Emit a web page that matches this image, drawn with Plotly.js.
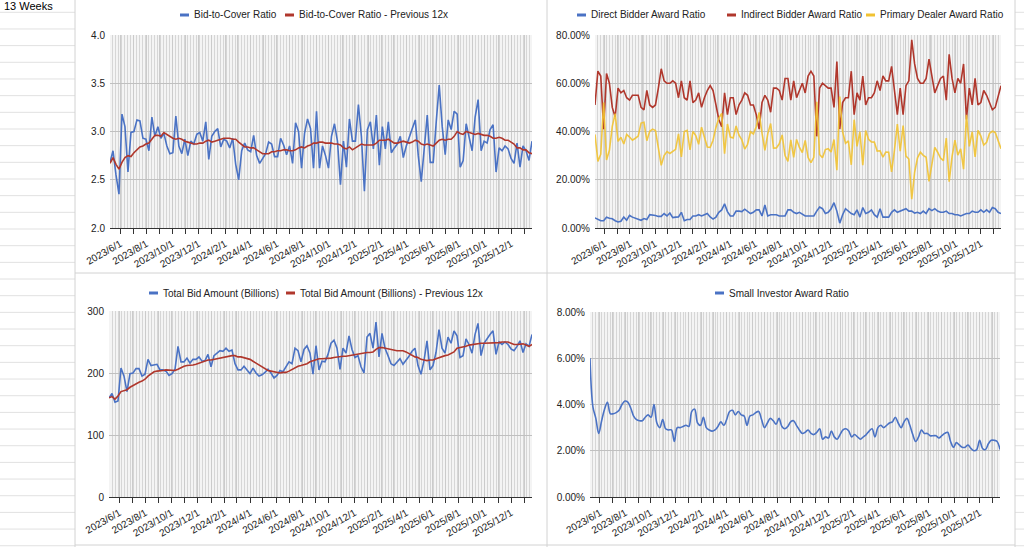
<!DOCTYPE html>
<html><head><meta charset="utf-8">
<script src="https://cdn.plot.ly/plotly-3.0.1.min.js"></script>
<style>html,body{margin:0;padding:0;background:#fff;overflow:hidden}#chart{width:1024px;height:547px}</style>
</head><body><div id="chart"></div>
<script>
const dates = [
'2023-05-08','2023-05-15','2023-05-22','2023-05-29','2023-06-05','2023-06-12','2023-06-19','2023-06-26','2023-07-03','2023-07-10',
'2023-07-17','2023-07-24','2023-07-31','2023-08-07','2023-08-14','2023-08-21','2023-08-28','2023-09-04','2023-09-11','2023-09-18',
'2023-09-25','2023-10-02','2023-10-09','2023-10-16','2023-10-23','2023-10-30','2023-11-06','2023-11-13','2023-11-20','2023-11-27',
'2023-12-04','2023-12-11','2023-12-18','2023-12-25','2024-01-01','2024-01-08','2024-01-15','2024-01-22','2024-01-29','2024-02-05',
'2024-02-12','2024-02-19','2024-02-26','2024-03-04','2024-03-11','2024-03-18','2024-03-25','2024-04-01','2024-04-08','2024-04-15',
'2024-04-22','2024-04-29','2024-05-06','2024-05-13','2024-05-20','2024-05-27','2024-06-03','2024-06-10','2024-06-17','2024-06-24',
'2024-07-01','2024-07-08','2024-07-15','2024-07-22','2024-07-29','2024-08-05','2024-08-12','2024-08-19','2024-08-26','2024-09-02',
'2024-09-09','2024-09-16','2024-09-23','2024-09-30','2024-10-07','2024-10-14','2024-10-21','2024-10-28','2024-11-04','2024-11-11',
'2024-11-18','2024-11-25','2024-12-02','2024-12-09','2024-12-16','2024-12-23','2024-12-30','2025-01-06','2025-01-13','2025-01-20',
'2025-01-27','2025-02-03','2025-02-10','2025-02-17','2025-02-24','2025-03-03','2025-03-10','2025-03-17','2025-03-24','2025-03-31',
'2025-04-07','2025-04-14','2025-04-21','2025-04-28','2025-05-05','2025-05-12','2025-05-19','2025-05-26','2025-06-02','2025-06-09',
'2025-06-16','2025-06-23','2025-06-30','2025-07-07','2025-07-14','2025-07-21','2025-07-28','2025-08-04','2025-08-11','2025-08-18',
'2025-08-25','2025-09-01','2025-09-08','2025-09-15','2025-09-22','2025-09-29','2025-10-06','2025-10-13','2025-10-20','2025-10-27',
'2025-11-03','2025-11-10','2025-11-17','2025-11-24','2025-12-01','2025-12-08','2025-12-15','2025-12-22','2025-12-29','2026-01-05',
'2026-01-12','2026-01-19'];

const tickDates = ['2023-06-01','2023-07-01','2023-08-01','2023-09-01','2023-10-01','2023-11-01','2023-12-01','2024-01-01',
'2024-02-01','2024-03-01','2024-04-01','2024-05-01','2024-06-01','2024-07-01','2024-08-01','2024-09-01','2024-10-01','2024-11-01',
'2024-12-01','2025-01-01','2025-02-01','2025-03-01','2025-04-01','2025-05-01','2025-06-01','2025-07-01','2025-08-01','2025-09-01',
'2025-10-01','2025-11-01','2025-12-01','2026-01-01'];
const tickLabels = ['2023/6/1','','2023/8/1','','2023/10/1','','2023/12/1','','2024/2/1','','2024/4/1','','2024/6/1','',
'2024/8/1','','2024/10/1','','2024/12/1','','2025/2/1','','2025/4/1','','2025/6/1','','2025/8/1','','2025/10/1','','2025/12/1',''];

const bidToCover = [2.68,2.80,2.55,2.35,3.18,3.05,2.58,2.99,3.00,3.12,
3.11,2.93,2.92,2.80,3.15,2.95,3.05,2.93,2.98,2.85,
2.77,2.78,3.16,2.85,2.77,2.92,2.75,2.90,2.87,2.97,
2.99,2.90,3.10,2.71,2.95,3.00,3.03,2.84,2.92,2.90,
2.83,2.93,2.66,2.50,2.80,2.88,2.81,2.79,2.96,2.75,
2.67,2.72,2.77,2.89,2.87,2.74,2.74,2.93,2.86,2.76,
2.85,2.67,3.09,3.00,2.62,2.98,3.13,3.03,2.62,3.21,
2.62,2.85,2.75,2.62,2.95,3.08,2.90,2.45,2.90,2.63,
3.13,2.90,2.90,3.28,2.95,2.38,3.02,3.10,2.82,3.17,
2.65,3.05,2.82,3.10,2.78,2.83,2.87,2.95,2.73,2.85,
2.95,3.03,3.12,2.75,2.48,2.80,3.17,2.68,2.68,3.10,
3.48,3.05,2.76,3.12,3.02,3.21,3.18,2.63,2.70,3.08,
2.95,2.80,3.15,3.33,2.80,2.90,2.88,3.02,3.07,2.58,
2.83,2.80,2.85,2.82,2.72,2.67,2.88,2.63,2.85,2.80,
2.70,2.90];

const bidToCoverPrev12 = [2.67,2.73,2.66,2.61,2.68,2.73,2.75,2.74,2.78,2.81,
2.84,2.85,2.87,2.88,2.92,2.96,2.96,2.95,2.99,2.97,
2.95,2.93,2.92,2.93,2.92,2.90,2.89,2.88,2.87,2.87,
2.88,2.88,2.90,2.91,2.89,2.90,2.91,2.92,2.93,2.93,
2.93,2.92,2.92,2.89,2.86,2.84,2.84,2.83,2.83,2.81,
2.79,2.77,2.77,2.77,2.79,2.79,2.80,2.80,2.81,2.81,
2.80,2.80,2.81,2.83,2.84,2.83,2.85,2.86,2.88,2.88,
2.89,2.89,2.88,2.88,2.88,2.87,2.87,2.86,2.83,2.82,
2.84,2.81,2.83,2.85,2.87,2.86,2.86,2.86,2.86,2.88,
2.91,2.91,2.91,2.92,2.90,2.88,2.88,2.89,2.90,2.89,
2.88,2.89,2.91,2.90,2.87,2.86,2.87,2.86,2.85,2.88,
2.91,2.92,2.91,2.92,2.92,2.95,3.00,2.98,2.97,3.00,
2.99,2.98,2.97,2.98,2.97,2.96,2.96,2.95,2.93,2.93,
2.94,2.93,2.91,2.91,2.89,2.87,2.83,2.83,2.81,2.81,
2.78,2.77];

const directAward = [4.2,3.5,3.0,3.0,4.5,4.0,3.8,3.0,2.5,2.8,
4.5,3.2,5.2,4.5,4.0,3.4,3.2,3.9,3.5,5.5,
5.5,5.2,4.8,4.8,6.0,5.0,6.2,4.3,4.5,4.6,
6.5,3.0,3.5,3.5,5.0,5.0,5.5,5.0,5.5,6.0,
4.6,3.7,4.5,6.5,7.5,10.0,6.8,5.0,5.0,7.0,
7.0,6.8,7.8,6.8,6.0,6.5,7.5,7.5,5.0,9.5,
5.0,5.5,5.5,5.5,5.0,5.0,5.0,7.5,7.5,6.5,
6.0,6.5,5.8,5.0,5.0,5.0,5.0,7.0,8.7,8.0,
6.0,6.5,8.0,10.5,7.0,2.0,5.5,8.0,7.0,6.0,
5.5,7.5,4.5,8.5,6.0,6.5,7.5,5.5,4.5,8.0,
4.5,4.5,4.5,6.5,7.5,6.5,7.0,7.5,8.0,7.0,
7.0,6.2,6.5,6.0,7.0,6.0,8.0,7.2,8.0,7.0,
6.5,6.5,7.0,6.0,6.0,5.5,5.5,5.0,5.5,6.0,
6.0,7.0,6.5,6.5,7.5,6.5,7.5,6.5,8.5,8.0,
6.5,6.0];

const indirectAward = [51,65,63,41,64,60,50,46,58,56,
57,54,53,55,55,55,50,49,57,51,
50,51,58,66,61,60,60,61,60,54,
61,54,53,61,52,53,56,50,54,57,
59,57,51,45,42,56,47,54,54,47,
51,53,56,55,51,51,47,41,52,55,
53,48,58,58,57,53,62,62,53,61,
54,57,60,56,63,65,63,38,58,60,
59,58,58,50,69,41,52,54,54,65,
47,56,53,63,51,54,54,56,61,57,
63,61,61,67,57,47,58,47,59,61,
78,68,62,60,60,62,70,63,56,59,
62,63,53,72,62,56,62,60,68,45,
58,51,62,51,52,57,55,52,49,50,
55,59];

const primaryDealerAward = [38.8,27.6,30.6,52.0,28.2,32.2,42.1,47.4,35.9,37.6,
34.8,38.8,37.7,36.4,37.2,38.1,43.5,43.8,36.2,40.1,
41.0,40.4,33.2,26.0,30.0,31.7,30.9,31.8,32.6,39.0,
29.5,40.0,40.5,32.4,40.0,38.3,34.7,41.8,37.4,33.6,
33.4,36.4,41.7,45.6,47.5,30.8,43.1,37.7,37.3,42.3,
38.5,36.5,32.7,34.7,39.9,39.0,42.0,47.9,39.3,32.2,
39.0,43.3,33.1,33.2,34.9,38.6,30.0,27.6,36.5,29.3,
36.7,33.4,31.3,36.3,29.2,27.1,29.3,52.3,30.5,29.1,
32.5,32.9,31.5,36.7,24.0,54.5,39.8,35.1,36.1,26.2,
44.9,33.8,39.9,26.0,40.4,36.8,35.7,35.6,31.9,32.0,
29.4,31.5,31.4,23.3,32.3,43.1,31.8,42.5,29.8,28.6,
11.9,23.1,29.1,31.4,30.1,29.3,19.3,27.2,33.4,31.4,
29.0,27.9,37.3,19.2,29.6,36.4,30.2,32.8,24.4,46.9,
33.8,39.9,29.5,40.5,38.1,34.4,35.5,39.2,40.1,39.6,
36.1,32.9];

const totalBid = [160,167,153,155,208,195,170,199,200,207,
207,195,198,222,212,213,214,205,205,203,
196,199,206,243,218,218,224,216,222,222,
226,219,220,230,210,228,232,236,235,240,
235,237,215,205,205,211,205,199,208,200,
195,197,201,206,200,192,196,204,202,210,
218,215,240,236,218,238,244,232,198,244,
205,219,218,230,248,253,240,206,240,232,
260,238,225,228,210,200,258,264,240,282,
226,264,240,228,215,212,218,223,214,220,
227,235,240,212,198,220,252,205,212,233,
270,240,232,258,248,268,260,225,228,255,
246,232,262,280,228,248,256,262,268,230,
250,246,250,246,239,236,243,252,233,247,
243,262];

const totalBidPrev12 = [160,162,158,163,170,172,173,177,180,182,
185,187,190,195,199,202,203,203,204,205,
205,204,204,206,209,211,212,212,213,214,
216,218,220,221,221,222,223,224,226,227,
228,228,228,226,226,225,224,222,219,216,
212,209,206,204,203,202,201,200,201,201,
203,206,209,211,212,213,215,218,220,222,
223,223,223,224,224,225,226,227,227,227,
228,229,230,231,232,232,233,233,234,238,
241,241,240,238,237,237,236,236,236,234,
231,228,226,225,222,221,220,221,221,223,
225,227,228,229,231,234,240,241,241,243,
245,246,247,248,248,248,248,248,248,249,
249,250,250,250,248,246,246,247,247,245,
243,246];

const smallInvestorAward = [6.0,3.9,3.4,2.75,3.3,3.8,4.1,3.6,3.6,3.65,
3.75,4.0,4.15,4.1,3.85,3.5,3.35,3.3,3.3,3.45,
3.55,3.45,4.0,3.2,3.0,3.35,2.95,2.9,2.9,2.4,
3.0,3.0,3.05,3.1,3.05,3.7,3.8,3.2,3.1,3.45,
3.0,2.9,2.85,2.9,3.05,3.25,3.1,3.35,3.7,3.75,
3.55,3.7,3.55,3.5,3.1,3.5,3.55,3.65,3.7,3.35,
3.0,3.2,3.4,3.3,3.15,3.4,3.05,2.95,3.05,3.25,
3.3,3.1,2.9,2.75,2.8,2.9,2.75,2.7,2.8,2.95,
2.5,2.6,2.55,2.85,2.6,2.5,2.7,2.9,2.95,2.85,
2.6,2.7,2.6,2.5,2.6,2.7,2.85,2.95,2.6,3.0,
3.1,3.0,3.1,3.2,3.25,3.45,3.2,3.0,3.25,3.4,
3.1,2.7,2.4,2.6,2.9,2.75,2.75,2.65,2.65,2.65,
2.55,2.65,2.75,2.8,2.4,2.15,2.35,2.25,2.15,2.15,
2.25,2.1,2.0,2.05,2.45,2.1,2.05,2.3,2.45,2.45,
2.4,2.05];

const W = 1024, H = 547;
const px = v => v / W;
const py = v => 1 - v / H;
const FONT = "'Liberation Sans',Arial,sans-serif";
const FS = 10;
const BLUE = '#4a72c4', RED = '#b0372c', YELLOW = '#f1c232';
const TXT = '#222222';

function xAxis(x0, x1, anchor) {
  return {
    domain: [px(x0), px(x1)], anchor: anchor, type: 'date',
    range: [dates[0], dates[dates.length - 1]],
    tickmode: 'array', tickvals: tickDates, ticktext: tickLabels,
    tickangle: -30, ticks: 'outside', ticklen: 5, tickwidth: 1, tickcolor: '#333',
    showline: true, linecolor: '#333', linewidth: 1.3,
    showgrid: true, gridcolor: '#cbcbcb', gridwidth: 1,
    minor: { tickmode: 'linear', tick0: dates[0], dtick: 7 * 86400000, showgrid: true, gridcolor: '#d6d6d6', gridwidth: 1, ticks: '' },
    tickfont: { size: FS, color: TXT, family: FONT },
    zeroline: false, fixedrange: true, automargin: false
  };
}
function yAxis(y0, y1, anchor, range, dtick, fmt, suffix) {
  return {
    domain: [py(y1), py(y0)], anchor: anchor, range: range,
    tickmode: 'linear', tick0: 0, dtick: dtick, tickformat: fmt, ticksuffix: suffix || '',
    showgrid: true, gridcolor: '#c0c0c0', gridwidth: 1, zeroline: false,
    showline: false, ticks: '', ticklabelstandoff: 4,
    tickfont: { size: FS, color: TXT, family: FONT }, fixedrange: true, automargin: false
  };
}
function line(y, xa, ya, name, color, shape) {
  return { x: dates, y: y, xaxis: xa, yaxis: ya, name: name, type: 'scatter', mode: 'lines',
    line: { color: color, width: 1.6, shape: shape || 'linear', smoothing: 1 }, hoverinfo: 'skip', showlegend: false };
}

const traces = [
  line(bidToCover, 'x', 'y', 'Bid-to-Cover Ratio', BLUE),
  line(bidToCoverPrev12, 'x', 'y', 'Bid-to-Cover Ratio - Previous 12x', RED),
  line(directAward, 'x2', 'y2', 'Direct Bidder Award Ratio', BLUE),
  line(indirectAward, 'x2', 'y2', 'Indirect Bidder Award Ratio', RED),
  line(primaryDealerAward, 'x2', 'y2', 'Primary Dealer Award Ratio', YELLOW),
  line(totalBid, 'x3', 'y3', 'Total Bid Amount (Billions)', BLUE),
  line(totalBidPrev12, 'x3', 'y3', 'Total Bid Amount (Billions) - Previous 12x', RED),
  line(smallInvestorAward, 'x4', 'y4', 'Small Investor Award Ratio', BLUE, 'spline')
];
traces[4].opacity = 0.9;

const shapes = [];
const annotations = [];
const GRIDC = '#e1e1e1', BORDER = '#d2d2d2';
// spreadsheet rows left and right of the charts
for (let k = 0; ; k++) {
  const yy = 12.3 + 16.67 * k;
  if (yy > H) break;
  shapes.push({ type: 'line', xref: 'paper', yref: 'paper', x0: 0, x1: px(75), y0: py(yy), y1: py(yy), line: { color: GRIDC, width: 1 } });
  shapes.push({ type: 'line', xref: 'paper', yref: 'paper', x0: px(1015), x1: 1, y0: py(yy), y1: py(yy), line: { color: GRIDC, width: 1 } });
}
// chart borders
[[75, 0, 75, H], [547, 0, 547, H], [1015, 0, 1015, H], [75, 273, 1015, 273], [75, 545, 1015, 545]].forEach(b => {
  shapes.push({ type: 'line', xref: 'paper', yref: 'paper', x0: px(b[0]), x1: px(b[2]), y0: py(b[1]), y1: py(b[3]), line: { color: BORDER, width: 1 } });
});
annotations.push({ xref: 'paper', yref: 'paper', x: px(2), y: py(6), xanchor: 'left', yanchor: 'middle', text: '13 Weeks',
  showarrow: false, font: { size: 11, color: '#000', family: FONT } });

function legendItem(x0, yy, color, text) {
  shapes.push({ type: 'line', xref: 'paper', yref: 'paper', x0: px(x0), x1: px(x0 + 9), y0: py(yy), y1: py(yy), line: { color: color, width: 3 } });
  annotations.push({ xref: 'paper', yref: 'paper', x: px(x0 + 12), y: py(yy), xanchor: 'left', yanchor: 'middle', text: text,
    showarrow: false, font: { size: FS, color: TXT, family: FONT } });
}
legendItem(180, 15, BLUE, traces[0].name);
legendItem(285, 15, RED, traces[1].name);
legendItem(577, 15, BLUE, traces[2].name);
legendItem(727, 15, RED, traces[3].name);
legendItem(866, 15, YELLOW, traces[4].name);
legendItem(149, 293, BLUE, traces[5].name);
legendItem(286, 293, RED, traces[6].name);
legendItem(715, 293, BLUE, traces[7].name);

const layout = {
  width: W, height: H, margin: { l: 0, r: 0, t: 0, b: 0 },
  paper_bgcolor: '#ffffff', plot_bgcolor: '#f4f4f4', showlegend: false,
  font: { family: FONT, size: FS, color: TXT },
  xaxis: xAxis(110, 532, 'y'),
  yaxis: yAxis(35, 228, 'x', [2, 4], 0.5, '.1f'),
  xaxis2: xAxis(595, 1001, 'y2'),
  yaxis2: yAxis(35, 228, 'x2', [0, 80], 20, '.2f', '%'),
  xaxis3: xAxis(109, 532, 'y3'),
  yaxis3: yAxis(311, 497, 'x3', [0, 300], 100, 'd'),
  xaxis4: xAxis(590, 1000, 'y4'),
  yaxis4: yAxis(312, 497, 'x4', [0, 8], 2, '.2f', '%'),
  shapes: shapes, annotations: annotations
};
Plotly.newPlot('chart', traces, layout, { staticPlot: true, displayModeBar: false });
</script>
</body></html>
